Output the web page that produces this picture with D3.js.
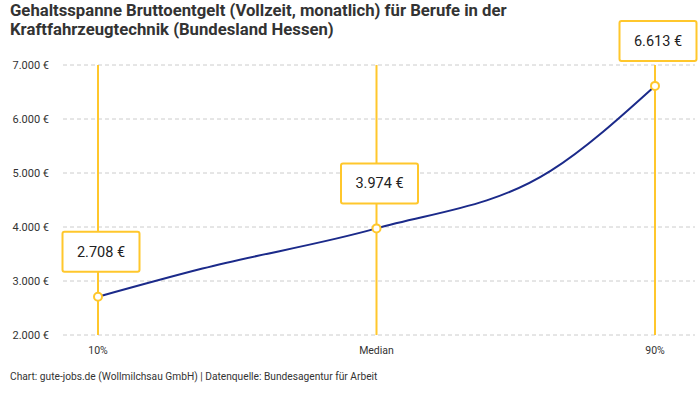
<!DOCTYPE html>
<html>
<head>
<meta charset="utf-8">
<script src="https://cdn.jsdelivr.net/npm/d3@7"></script>
<style>
  html, body { margin: 0; padding: 0; background: #fff; }
  svg { display: block; font-family: Roboto, "Noto Sans", sans-serif; }
</style>
</head>
<body>
<svg id="chart" width="700" height="400"></svg>
<script>
// ---- data ----
const titleLines = [
  "Gehaltsspanne Bruttoentgelt (Vollzeit, monatlich) für Berufe in der",
  "Kraftfahrzeugtechnik (Bundesland Hessen)"
];
const percentiles = [10, 25, 50, 75, 90];
const salaries = [2708, 3230, 3974, 5040, 6613];
const labeledPercentiles = [10, 50, 90];
const xTickLabels = ["10%", "Median", "90%"];
const yTicks = [2000, 3000, 4000, 5000, 6000, 7000];
const footer = "Chart: gute-jobs.de (Wollmilchsau GmbH) | Datenquelle: Bundesagentur für Arbeit";

// ---- layout ----
const svg = d3.select("#chart");
const gridLeft = 63, gridRight = 695;
const x = d3.scaleLinear().domain([10, 90]).range([98, 655]);
const y = d3.scaleLinear().domain([2000, 7000]).range([335, 65]);
const yellow = "#FFC72C";
const blue = "#1B2A8A";
const fmt = v => d3.format(",")(v).replace(/,/g, ".") + " €";

// title
svg.append("g").selectAll("text").data(titleLines).join("text")
  .attr("x", 10).attr("y", (d, i) => 16 + i * 19)
  .attr("font-size", 16.7).attr("font-weight", 700).attr("fill", "#333")
  .text(d => d);

// y grid + labels
const yAxis = svg.append("g");
yAxis.selectAll("line").data(yTicks).join("line")
  .attr("x1", gridLeft).attr("x2", gridRight)
  .attr("y1", d => y(d)).attr("y2", d => y(d))
  .attr("stroke", "#ccc").attr("stroke-width", 1).attr("stroke-dasharray", "4,3");
yAxis.selectAll("text").data(yTicks).join("text")
  .attr("x", 49).attr("y", d => y(d)).attr("dy", "0.35em")
  .attr("text-anchor", "end").attr("font-size", 11).attr("fill", "#333")
  .text(d => fmt(d));

// vertical percentile lines
svg.append("g").selectAll("line").data(labeledPercentiles).join("line")
  .attr("x1", d => x(d)).attr("x2", d => x(d))
  .attr("y1", y(7000)).attr("y2", y(2000))
  .attr("stroke", yellow).attr("stroke-width", 2);

// x labels
svg.append("g").selectAll("text").data(labeledPercentiles).join("text")
  .attr("x", d => x(d)).attr("y", 354)
  .attr("text-anchor", "middle").attr("font-size", 10.5).attr("fill", "#333")
  .text((d, i) => xTickLabels[i]);

// curve
const pts = percentiles.map((p, i) => [p, salaries[i]]);
const line = d3.line().x(d => x(d[0])).y(d => y(d[1])).curve(d3.curveMonotoneX);
svg.append("path").datum(pts)
  .attr("d", line).attr("fill", "none")
  .attr("stroke", blue).attr("stroke-width", 2);

// markers + label boxes
const labeled = pts.filter(d => labeledPercentiles.includes(d[0]));
svg.append("g").selectAll("circle").data(labeled).join("circle")
  .attr("cx", d => x(d[0])).attr("cy", d => y(d[1])).attr("r", 4)
  .attr("fill", "#fff").attr("stroke", yellow).attr("stroke-width", 2);

const boxW = 77, boxH = 40;
const boxes = svg.append("g").selectAll("g").data(labeled).join("g")
  .attr("transform", d => `translate(${x(d[0]) + 3},${y(d[1]) - 25 - boxH / 2})`);
boxes.append("rect")
  .attr("x", -boxW / 2).attr("y", -boxH / 2).attr("width", boxW).attr("height", boxH)
  .attr("rx", 2).attr("fill", "#fff").attr("stroke", yellow).attr("stroke-width", 2);
boxes.append("text")
  .attr("text-anchor", "middle").attr("dy", "0.35em")
  .attr("font-size", 14.5).attr("fill", "#222")
  .text(d => fmt(d[1]));

// footer
svg.append("text").attr("x", 10).attr("y", 380)
  .attr("font-size", 10.2).attr("fill", "#333").text(footer);
</script>
</body>
</html>
